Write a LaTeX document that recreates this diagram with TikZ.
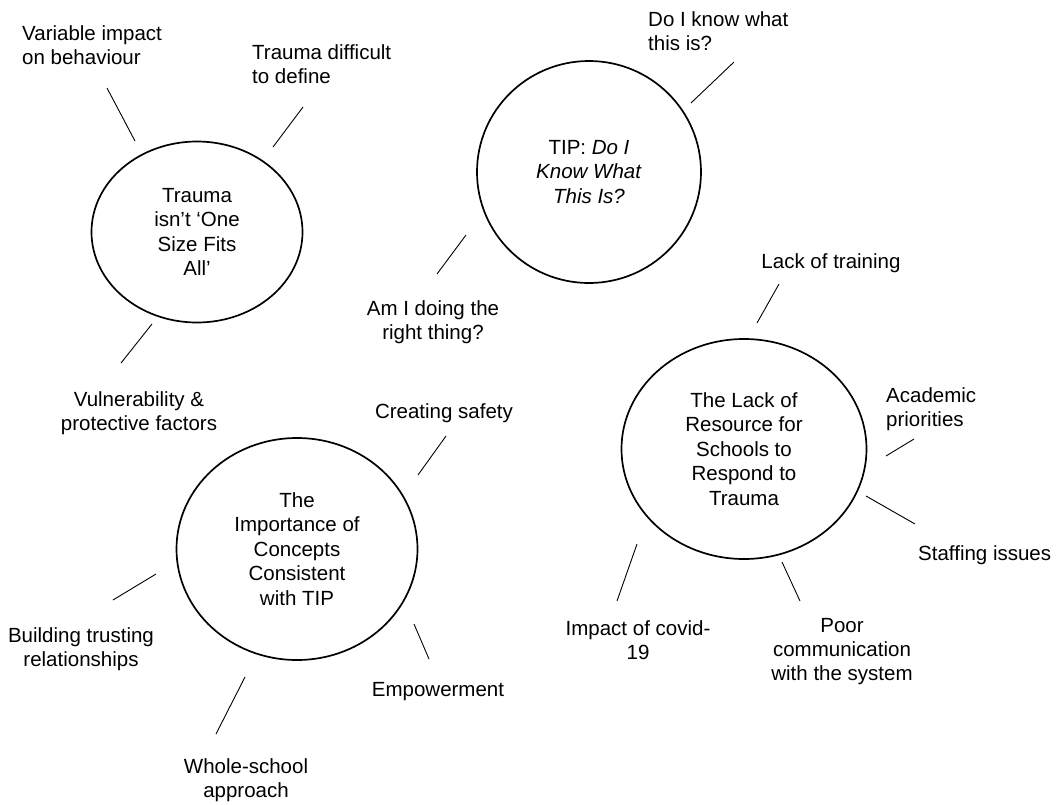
\documentclass[tikz,border=0pt]{standalone}
\usepackage{fontspec}
\setmainfont{Liberation Sans}
\usetikzlibrary{shapes.geometric}
\begin{document}
\begin{tikzpicture}[x=1pt,y=-1pt,
  theme/.style={ellipse,draw,line width=1.7pt,inner sep=0pt,align=center,
    font=\fontsize{20.5}{24.5}\selectfont},
  lbl/.style={inner sep=0pt,font=\fontsize{20.5}{24}\selectfont},
  spoke/.style={line width=0.9pt}]
\useasboundingbox (0,0) rectangle (1061,804);

% --- theme circles ---
\node[theme,minimum width=211pt,minimum height=181pt] (oneSize) at (197,232)
  {Trauma\\isn’t ‘One\\Size Fits\\All’};
\node[theme,minimum width=224pt,minimum height=222pt] (tip) at (589,172)
  {TIP: \textit{Do I}\\\textit{Know What}\\\textit{This Is?}};
\node[theme,minimum width=245pt,minimum height=220pt] (resource) at (744,449)
  {The Lack of\\Resource for\\Schools to\\Respond to\\Trauma};
\node[theme,minimum width=241pt,minimum height=222pt] (concepts) at (297,549)
  {The\\Importance of\\Concepts\\Consistent\\with TIP};

% --- subtheme labels ---
\node[lbl,align=left,anchor=west] (variable) at (22,45) {Variable impact\\on behaviour};
\node[lbl,align=left,anchor=west] (define) at (252,64) {Trauma difficult\\to define};
\node[lbl,align=center] (vulner) at (139,413) {Vulnerability \&\\protective factors};
\node[lbl,align=left,anchor=west] (knowq) at (648,31.5) {Do I know what\\this is?};
\node[lbl,align=center] (rightq) at (433,322) {Am I doing the\\right thing?};
\node[lbl] (training) at (831,263) {Lack of training};
\node[lbl,align=left,anchor=west] (academic) at (886,409.5) {Academic\\priorities};
\node[lbl,anchor=west] (staffing) at (918,555) {Staffing issues};
\node[lbl,align=center] (covid) at (638,640.5) {Impact of covid-\\19};
\node[lbl,align=center] (comms) at (842,652) {Poor\\communication\\with the system};
\node[lbl] (safety) at (444,413) {Creating safety};
\node[lbl,align=center] (trust) at (81,649.5) {Building trusting\\relationships};
\node[lbl] (empower) at (438,692) {Empowerment};
\node[lbl,align=center] (whole) at (246,780) {Whole-school\\approach};

% --- spoke end points ---
\coordinate (s1a) at (107,88);  \coordinate (s1b) at (135,141);
\coordinate (s2a) at (303,107); \coordinate (s2b) at (273,147);
\coordinate (s3a) at (152,324); \coordinate (s3b) at (121,363);
\coordinate (s4a) at (734,62);  \coordinate (s4b) at (691,103);
\coordinate (s5a) at (466,235); \coordinate (s5b) at (437,274);
\coordinate (s6a) at (779,284); \coordinate (s6b) at (757,323);
\coordinate (s7a) at (914,439); \coordinate (s7b) at (886,456);
\coordinate (s8a) at (866,496); \coordinate (s8b) at (915,524);
\coordinate (s9a) at (637,544); \coordinate (s9b) at (617,601);
\coordinate (s10a) at (782,562); \coordinate (s10b) at (800,601);
\coordinate (s11a) at (446,436); \coordinate (s11b) at (418,475);
\coordinate (s12a) at (156,574); \coordinate (s12b) at (113,600);
\coordinate (s13a) at (414,624); \coordinate (s13b) at (429,659);
\coordinate (s14a) at (245,677); \coordinate (s14b) at (216,734);

% --- spokes ---
\foreach \i in {1,...,14} \draw[spoke] (s\i a) -- (s\i b);
\end{tikzpicture}
\end{document}
